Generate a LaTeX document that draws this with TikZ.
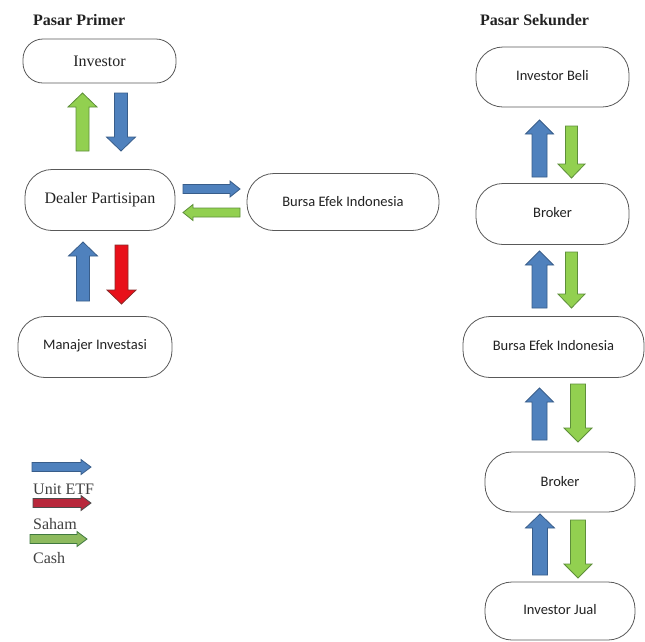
\documentclass[tikz,border=0pt]{standalone}
\usepackage{fontspec}
\setmainfont{Liberation Serif}
\newfontfamily\calib{Carlito}
\definecolor{ablue}{HTML}{4F81BD}
\definecolor{abluel}{HTML}{385D8A}
\definecolor{agreen}{HTML}{92D050}
\definecolor{agreenl}{HTML}{5E8F3A}
\definecolor{lgreen}{HTML}{8DBA5E}
\definecolor{ared}{HTML}{E8101A}
\definecolor{aredl}{HTML}{8A2A2A}
\definecolor{lred}{HTML}{B8283C}
\definecolor{txt}{HTML}{222222}
% #1 fill, #2 outline, #3 tail point, #4 angle, #5 length, #6 shaft half, #7 head half, #8 head length
\newcommand\blkarrow[8]{%
  \begin{scope}[shift={#3},rotate=#4]
    \filldraw[fill=#1,draw=#2,line width=0.8pt,line join=miter]
      (0,-#6)--(#5-#8,-#6)--(#5-#8,-#7)--(#5,0)--(#5-#8,#7)--(#5-#8,#6)--(0,#6)--cycle;
  \end{scope}}
\begin{document}
\begin{tikzpicture}[x=1pt,y=-1pt,
  box/.style={draw=black!65,line width=0.8pt,rounded corners=27pt,fill=white,
    inner sep=0pt,text=txt},
  serifbox/.style={box,font=\fontsize{16}{18}\selectfont},
  sansbox/.style={box,font=\calib\fontsize{14.5}{17}\selectfont},
  title/.style={anchor=west,inner sep=0pt,font=\bfseries\fontsize{16}{18}\selectfont,text=txt},
  legtext/.style={anchor=west,inner sep=0pt,font=\fontsize{16}{18}\selectfont,text=black!75}]
\useasboundingbox (0,0) rectangle (645,641);
\fill[white] (0,0) rectangle (645,641);

% titles
\node[title] (tp) at (33,20) {Pasar Primer};
\node[title] (ts) at (480,20) {Pasar Sekunder};

% left column nodes
\node[serifbox,rounded corners=20pt,minimum width=153pt,minimum height=44pt] (inv) at (99.5,61) {Investor};
\node[serifbox,minimum width=150pt,minimum height=61pt] (dealer) at (100,200) {Dealer Partisipan};
\node[sansbox,minimum width=192pt,minimum height=57pt] (bursaL) at (343,202) {Bursa Efek Indonesia};
\node[sansbox,minimum width=154pt,minimum height=61pt] (manajer) at (95,347) {\raisebox{4pt}{Manajer Investasi}};

% right column nodes
\node[sansbox,minimum width=153pt,minimum height=60pt] (beli) at (552.5,77) {\raisebox{4pt}{Investor Beli}};
\node[sansbox,minimum width=153pt,minimum height=61pt] (broker1) at (552.5,214) {\raisebox{4pt}{Broker}};
\node[sansbox,minimum width=181pt,minimum height=61pt] (bursaR) at (553.5,347) {\raisebox{4pt}{Bursa Efek Indonesia}};
\node[sansbox,minimum width=150pt,minimum height=60pt] (broker2) at (560,482) {Broker};
\node[sansbox,minimum width=150pt,minimum height=58pt] (jual) at (560,611) {\raisebox{4pt}{Investor Jual}};

% left column block arrows
\blkarrow{agreen}{agreenl}{(82.5,151)}{90}{58}{6.5}{14.5}{14}
\blkarrow{ablue}{abluel}{(121,93)}{-90}{58}{6.5}{14.5}{14}
\blkarrow{ablue}{abluel}{(83,301)}{90}{59}{6.5}{14.5}{14}
\blkarrow{ared}{aredl}{(121.5,245)}{-90}{59}{6.5}{14.5}{14}
\blkarrow{ablue}{abluel}{(183,189)}{0}{57}{4.5}{8}{10}
\blkarrow{agreen}{agreenl}{(240,212.5)}{180}{57}{4.5}{8}{10}

% right column block arrows
\blkarrow{ablue}{abluel}{(539.5,177)}{90}{57}{7.5}{14}{14}
\blkarrow{agreen}{agreenl}{(571.5,126)}{-90}{52}{6}{13.5}{14}
\blkarrow{ablue}{abluel}{(539.5,308)}{90}{57}{7.5}{14}{14}
\blkarrow{agreen}{agreenl}{(571.5,252)}{-90}{56}{6}{13.5}{14}
\blkarrow{ablue}{abluel}{(539.5,440)}{90}{52}{7.5}{14}{14}
\blkarrow{agreen}{agreenl}{(578,384)}{-90}{58}{7.5}{14}{14}
\blkarrow{ablue}{abluel}{(540,575)}{90}{61}{7.5}{14.5}{14}
\blkarrow{agreen}{agreenl}{(578,520)}{-90}{58}{7.5}{14}{14}

% legend
\blkarrow{ablue}{abluel}{(32,467)}{0}{59}{4.5}{7.5}{10}
\node[legtext] (l1) at (33,489) {Unit ETF};
\blkarrow{lred}{black!70}{(33,503)}{0}{58}{4.5}{7.5}{10}
\node[legtext] (l2) at (33,524) {Saham};
\blkarrow{lgreen}{black!55!green!50!gray}{(30,539)}{0}{57}{4.5}{7.5}{10}
\node[legtext] (l3) at (33,558) {Cash};
\end{tikzpicture}
\end{document}
